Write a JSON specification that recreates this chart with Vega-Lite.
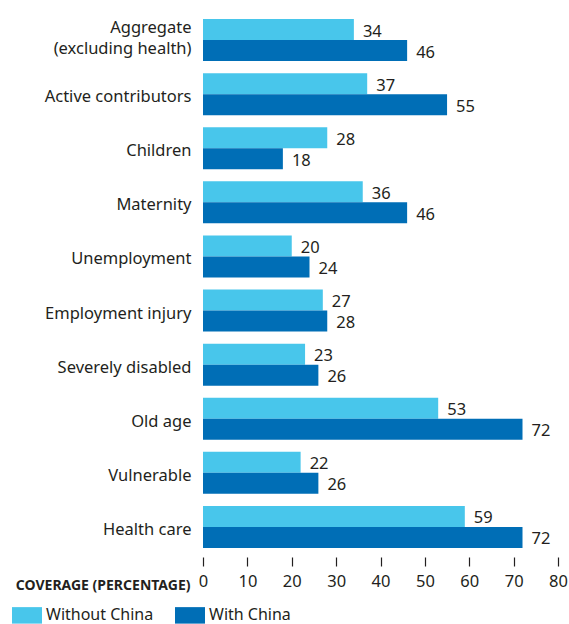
{
  "$schema": "https://vega.github.io/schema/vega-lite/v6.json",
  "autosize": "none",
  "width": 355,
  "height": 541,
  "padding": {"left": 203, "top": 13, "right": 11, "bottom": 70},
  "background": "white",
  "config": {
    "view": {"stroke": null},
    "font": "Noto Sans",
    "text": {"font": "Noto Sans"}
  },
  "data": {
    "values": [
      {"category": "Aggregate|(excluding health)", "series": "Without China", "value": 34},
      {"category": "Aggregate|(excluding health)", "series": "With China", "value": 46},
      {"category": "Active contributors", "series": "Without China", "value": 37},
      {"category": "Active contributors", "series": "With China", "value": 55},
      {"category": "Children", "series": "Without China", "value": 28},
      {"category": "Children", "series": "With China", "value": 18},
      {"category": "Maternity", "series": "Without China", "value": 36},
      {"category": "Maternity", "series": "With China", "value": 46},
      {"category": "Unemployment", "series": "Without China", "value": 20},
      {"category": "Unemployment", "series": "With China", "value": 24},
      {"category": "Employment injury", "series": "Without China", "value": 27},
      {"category": "Employment injury", "series": "With China", "value": 28},
      {"category": "Severely disabled", "series": "Without China", "value": 23},
      {"category": "Severely disabled", "series": "With China", "value": 26},
      {"category": "Old age", "series": "Without China", "value": 53},
      {"category": "Old age", "series": "With China", "value": 72},
      {"category": "Vulnerable", "series": "Without China", "value": 22},
      {"category": "Vulnerable", "series": "With China", "value": 26},
      {"category": "Health care", "series": "Without China", "value": 59},
      {"category": "Health care", "series": "With China", "value": 72}
    ]
  },
  "encoding": {
    "y": {
      "field": "category",
      "type": "nominal",
      "sort": null,
      "scale": {"paddingInner": 0.224, "paddingOuter": 0.112},
      "axis": {
        "title": null,
        "domain": false,
        "ticks": false,
        "labelPadding": 12,
        "labelFontSize": 16.5,
        "labelColor": "#231f20",
        "labelLineHeight": 21,
        "labelOffset": {"condition": {"test": "indexof(datum.value, '|') >= 0", "value": -12}, "value": 3},
        "labelExpr": "split(datum.label, '|')"
      }
    },
    "yOffset": {
      "field": "series",
      "type": "nominal",
      "sort": ["Without China", "With China"]
    },
    "x": {
      "field": "value",
      "type": "quantitative",
      "scale": {"domain": [0, 80], "nice": false},
      "axis": {
        "values": [0, 10, 20, 30, 40, 50, 60, 70, 80],
        "grid": false,
        "domain": false,
        "offset": 3,
        "tickSize": 9,
        "tickColor": "#231f20",
        "tickWidth": 1.2,
        "labelPadding": 7,
        "labelFontSize": 16.5,
        "labelColor": "#231f20",
        "labelFlush": false,
        "title": "COVERAGE (PERCENTAGE)",
        "titleFontSize": 14,
        "titleFontWeight": "bold",
        "titleColor": "#231f20",
        "titleAngle": 0,
        "titleAlign": "right",
        "titleBaseline": "middle",
        "titleAnchor": "start",
        "titleX": -13,
        "titleY": 28
      }
    }
  },
  "layer": [
    {
      "mark": {"type": "bar"},
      "encoding": {
        "color": {
          "field": "series",
          "type": "nominal",
          "sort": ["Without China", "With China"],
          "scale": {"domain": ["Without China", "With China"], "range": ["#48c6eb", "#006eb6"]},
          "legend": {
            "title": null,
            "orient": "none",
            "legendX": -191,
            "legendY": 587,
            "direction": "horizontal",
            "symbolType": "M-1,-0.55H1V0.55H-1Z",
            "symbolSize": 900,
            "symbolStrokeWidth": 0,
            "symbolOpacity": 1,
            "labelFontSize": 16,
            "labelColor": "#231f20",
            "labelOffset": 4,
            "columnPadding": 21,
            "padding": 0
          }
        }
      }
    },
    {
      "mark": {"type": "text", "align": "left", "baseline": "middle", "dx": 9, "dy": 2, "fontSize": 16.5, "color": "#231f20"},
      "encoding": {
        "text": {"field": "value", "type": "quantitative"}
      }
    }
  ]
}
